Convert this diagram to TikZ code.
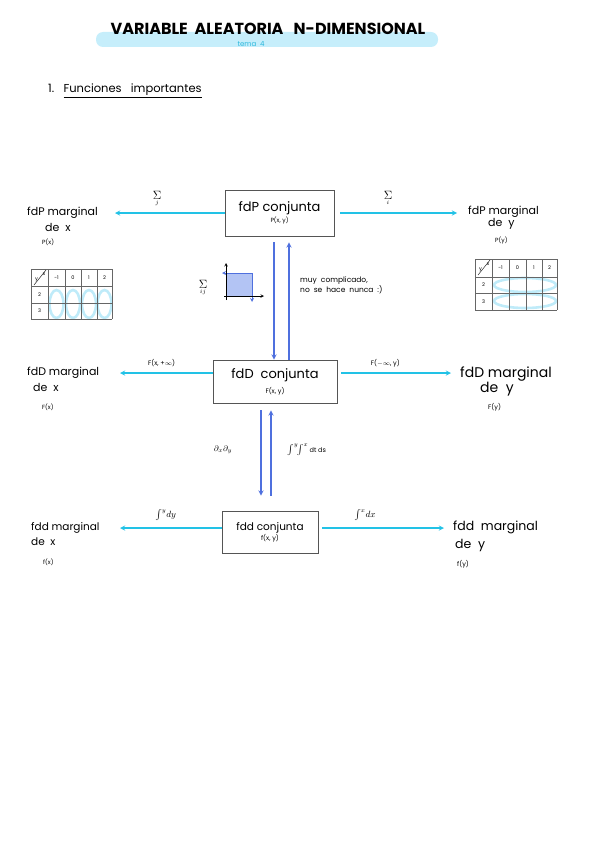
\documentclass[tikz,border=0pt]{standalone}
\usepackage{fontspec}
\setmainfont{Poppins}
\usepackage{tikz}
\usetikzlibrary{shapes, arrows, positioning, calc}

\definecolor{lineCyan}{HTML}{22C2E6}
\definecolor{lineBlue}{HTML}{4F70DE}
\definecolor{hlCyan}{HTML}{C6EEFB}
\definecolor{temaCyan}{HTML}{2BB8DC}
\definecolor{ringCyan}{HTML}{B4E8F8}
\definecolor{sqFill}{HTML}{B3C4F4}
\definecolor{boxGray}{HTML}{555555}

\begin{document}
\begin{tikzpicture}[
    x=1pt, y=-1pt,
    >=stealth,
    box/.style={draw=boxGray, line width=0.9pt, align=center, inner sep=2pt},
    hand/.style={inner sep=0pt, anchor=west},
    cyanArrow/.style={->, draw=lineCyan, line width=1.3pt},
    blueArrow/.style={->, draw=lineBlue, line width=1.3pt},
    gridline/.style={draw=gray!80!black, line width=0.6pt},
    ring/.style={draw=ringCyan, line width=2.6pt, opacity=0.85},
    tiny label/.style={font=\fontsize{5}{6}\selectfont, inner sep=0pt},
    sum label/.style={font=\fontsize{13}{14}\selectfont, inner sep=0pt},
    sub label/.style={font=\fontsize{6}{7}\selectfont, inner sep=0pt}
    ]
    \useasboundingbox (0,0) rectangle (599,848);

    % Title
    \fill[hlCyan, rounded corners=7pt] (96,32) rectangle (438,47);
    \node[font=\fontsize{16}{18}\selectfont\bfseries] (title) at (268,29)
        {VARIABLE~~ALEATORIA~~~N-DIMENSIONAL};
    \node[font=\fontsize{7}{8}\selectfont, text=temaCyan, inner sep=0pt] (tema) at (251,44) {tema~~4};
    \node[hand, font=\fontsize{11.5}{13}\selectfont] (sec) at (48,91)
        {1.~~~\underline{Funciones~~~importantes}};

    % Boxes
    \node[box, minimum width=109, minimum height=46] (pc) at (279.5,213)
        {\fontsize{13}{15}\selectfont fdP conjunta\\[-1pt]\fontsize{6}{7}\selectfont P(x, y)};
    \node[box, minimum width=124, minimum height=43] (Fc) at (275,381.5)
        {\fontsize{13}{15}\selectfont fdD~~conjunta\\[3pt]\fontsize{6.5}{7}\selectfont F(x, y)};
    \node[box, minimum width=96, minimum height=42] (fc) at (270,532)
        {\fontsize{10.5}{12}\selectfont fdd conjunta\\[-2pt]\fontsize{6.5}{7}\selectfont f(x, y)};

    % Marginales
    \node[hand, font=\fontsize{11}{13}\selectfont] (mPx) at (27,213) {fdP marginal};
    \node[hand, font=\fontsize{11}{13}\selectfont] (mPxde) at (45,227) {de~~x};
    \node[hand, font=\fontsize{6}{7}\selectfont] (mPxl) at (42,242) {P(x)};
    \node[hand, font=\fontsize{11}{13}\selectfont] (mPy) at (468,212) {fdP marginal};
    \node[hand, font=\fontsize{11}{13}\selectfont] (mPyde) at (488,224) {de~~y};
    \node[hand, font=\fontsize{6}{7}\selectfont] (mPyl) at (495,240) {P(y)};

    \node[hand, font=\fontsize{11}{13}\selectfont] (mFx) at (27,373) {fdD marginal};
    \node[hand, font=\fontsize{11}{13}\selectfont] (mFxde) at (33,387) {de~~x};
    \node[hand, font=\fontsize{6}{7}\selectfont] (mFxl) at (42,407) {F(x)};
    \node[hand, font=\fontsize{14}{16}\selectfont] (mFy) at (460,374) {fdD marginal};
    \node[hand, font=\fontsize{14}{16}\selectfont] (mFyde) at (480,389) {de~~y};
    \node[hand, font=\fontsize{6.5}{7}\selectfont] (mFyl) at (488,407) {F(y)};

    \node[hand, font=\fontsize{10.5}{13}\selectfont] (mfx) at (31,528) {fdd marginal};
    \node[hand, font=\fontsize{10.5}{13}\selectfont] (mfxde) at (31,542) {de~~x};
    \node[hand, font=\fontsize{6}{7}\selectfont] (mfxl) at (43,562) {f(x)};
    \node[hand, font=\fontsize{12.5}{14}\selectfont] (mfy) at (453,527) {fdd~~marginal};
    \node[hand, font=\fontsize{12.5}{14}\selectfont] (mfyde) at (455,545) {de~~y};
    \node[hand, font=\fontsize{6.5}{7}\selectfont] (mfyl) at (457,564) {f(y)};

    % Arrow tips at the marginals
    \coordinate (tPx) at (115,213);
    \coordinate (tPy) at (457,213);
    \coordinate (tFx) at (120,373);
    \coordinate (tFy) at (451,373);
    \coordinate (tfx) at (120,528);
    \coordinate (tfy) at (444,528);

    % Arrows to marginals
    \draw[cyanArrow] (pc.west) -- (tPx);
    \draw[cyanArrow] ($(pc.east)+(6,0)$) -- (tPy);
    \draw[cyanArrow] (Fc.west |- tFx) -- node[pos=0.55, above=2pt, font=\fontsize{6.5}{7}\selectfont] {F(x, +$\infty$)} (tFx);
    \draw[cyanArrow] ($(Fc.east |- tFy)+(4,0)$) -- node[pos=0.4, above=2pt, font=\fontsize{6.5}{7}\selectfont] {F($-\infty$, y)} (tFy);
    \draw[cyanArrow] (fc.west |- tfx) -- node[pos=0.55, above=3pt, font=\small] {$\int^{y}\! dy$} (tfx);
    \draw[cyanArrow] ($(fc.east |- tfy)+(4,0)$) -- node[pos=0.35, above=3pt, font=\small] {$\int^{x}\! dx$} (tfy);

    % Sums over the arrows
    \node[sum label] (sumj) at (157,195) {$\Sigma$};
    \node[sub label, below=1.5pt of sumj] (subj) {$j$};
    \node[sum label] (sumi) at (388,195) {$\Sigma$};
    \node[sub label, below=1.5pt of sumi] (subi) {$i$};

    % Vertical arrows
    \coordinate (d1) at ($(pc.south)+(-5.5,6)$);
    \coordinate (u1) at ($(pc.south)+(9.5,6)$);
    \draw[blueArrow] (d1) -- (d1 |- Fc.north);
    \draw[blueArrow] (u1 |- Fc.north) -- (u1);
    \coordinate (d2) at ($(Fc.south)+(-14,7)$);
    \coordinate (u2) at ($(Fc.south)+(-4,7)$);
    \draw[blueArrow] (d2) -- ($(d2 |- fc.north)+(0,-15)$);
    \draw[blueArrow] ($(u2 |- fc.north)+(0,-15)$) -- (u2);

    \node[hand, font=\fontsize{7.5}{10}\selectfont, align=left] (note) at (300,285)
        {muy~~complicado,\\no~~se~~hace~~nunca~~:)};
    \node[font=\fontsize{8}{9}\selectfont, inner sep=0pt] (dxdy) at (223,450) {$\partial_x\partial_y$};
    \node[hand, font=\small] (intint) at (287,450) {$\int^{y}\!\!\int^{x}$\,{\fontsize{6.5}{7}\selectfont dt ds}};

    % Sigma ij + region
    \node[sum label] (sumij) at (203,284) {$\Sigma$};
    \node[sub label, below=1.5pt of sumij] (subij) {$ij$};
    \fill[sqFill] (226,273) rectangle (252,296);
    \draw[<->, lineBlue, line width=0.8pt] (222,273) -- (252,273) -- (252,302);
    \draw[->, line width=0.6pt] (226,300) -- (226,263);
    \draw[->, line width=0.6pt] (224,296) -- (264,296);

    % Left table
    \foreach \xx/\v in {56.5/-1, 73/0, 89/1, 104.5/2}
        \node[tiny label] (tl\v) at (\xx,277.5) {\v};
    \node[tiny label] (tl2r) at (39.5,294.5) {2};
    \node[tiny label] (tl3r) at (39.5,311) {3};
    \foreach \xx in {56.5, 73, 89, 104.5}
        \draw[ring] (\xx,304) ellipse (7 and 14);
    \foreach \xx in {31,48,65,81,97,112}
        \draw[gridline] (\xx,269) -- (\xx,319);
    \foreach \yy in {269,286,303,319}
        \draw[gridline] (31,\yy) -- (112,\yy);
    \draw[line width=0.4pt] (34,285) -- (46,270);
    \node[tiny label] (tly) at (36.5,280) {y};
    \node[tiny label] (tlx) at (44,274) {x};

    % Right table
    \foreach \xx/\v in {500.5/-1, 517.5/0, 534/1, 549.5/2}
        \node[tiny label] (tr\v) at (\xx,267.5) {\v};
    \node[tiny label] (tr2r) at (483.5,285) {2};
    \node[tiny label] (tr3r) at (483.5,301.5) {3};
    \foreach \yy in {285, 301}
        \draw[ring] (525,\yy) ellipse (31 and 7);
    \foreach \xx in {475,492,509,526,542,557}
        \draw[gridline] (\xx,259) -- (\xx,310);
    \foreach \yy in {259,277,293,310}
        \draw[gridline] (475,\yy) -- (557,\yy);
    \draw[line width=0.4pt] (478,275) -- (490,260);
    \node[tiny label] (try) at (480.5,270) {y};
    \node[tiny label] (trx) at (488,264) {x};
\end{tikzpicture}
\end{document}
